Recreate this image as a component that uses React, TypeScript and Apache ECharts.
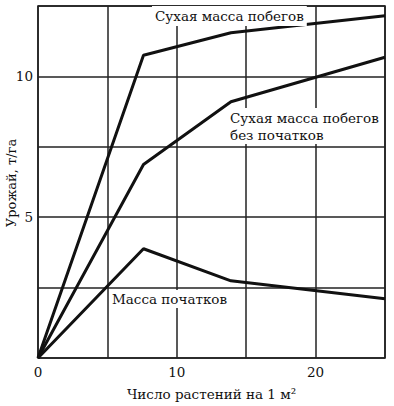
import React, { useEffect, useRef } from "react";
import * as echarts from "echarts";

const plantDensity = [0, 7.6, 13.9, 25];
const shootDryMass = [0, 10.75, 11.55, 12.15];
const shootDryMassNoEars = [0, 6.87, 9.1, 10.68];
const earMass = [0, 3.88, 2.74, 2.1];

const xTickLabels = [0, 10, 20];
const yTickLabels = [5, 10];

const seriesNames = [
  "Сухая масса побегов",
  "Сухая масса побегов\nбез початков",
  "Масса початков",
];

const FONT = "'DejaVu Serif', 'Liberation Serif', serif";

export default function App() {
  const ref = useRef<HTMLDivElement>(null);
  useEffect(() => {
    if (!ref.current) return;
    const chart = echarts.init(ref.current, undefined, { renderer: "svg" });
    const mk = (vals: number[]) => plantDensity.map((x, i) => [x, vals[i]]);
    const lineStyle = { color: "#111", width: 3 };
    chart.setOption({
      animation: false,
      backgroundColor: "#fff",
      grid: {
        left: 38,
        right: 9,
        top: 6,
        bottom: 48,
        show: true,
        borderColor: "#111",
        borderWidth: 1.5,
      },
      xAxis: {
        type: "value",
        min: 0,
        max: 25,
        interval: 5,
        name: "Число растений на 1 м²",
        nameLocation: "middle",
        nameGap: 29,
        nameTextStyle: { fontFamily: FONT, fontSize: 13.5, color: "#111" },
        axisLine: { show: false },
        axisTick: { show: false },
        axisLabel: {
          margin: 7,
          fontFamily: FONT,
          fontSize: 13.5,
          color: "#111",
          formatter: (v: number) => (xTickLabels.includes(v) ? String(v) : ""),
        },
        splitLine: { show: true, lineStyle: { color: "#222", width: 1.5 } },
      },
      yAxis: {
        type: "value",
        min: 0,
        max: 12.5,
        interval: 2.5,
        axisLine: { show: false },
        axisTick: { show: false },
        axisLabel: {
          margin: 5,
          fontFamily: FONT,
          fontSize: 13.5,
          color: "#111",
          formatter: (v: number) => (yTickLabels.includes(v) ? String(v) : ""),
        },
        splitLine: { show: true, lineStyle: { color: "#222", width: 1.5 } },
      },
      series: [
        { name: seriesNames[0], type: "line", data: mk(shootDryMass), symbol: "none", lineStyle },
        { name: seriesNames[1], type: "line", data: mk(shootDryMassNoEars), symbol: "none", lineStyle },
        { name: seriesNames[2], type: "line", data: mk(earMass), symbol: "none", lineStyle },
      ],
      graphic: [
        {
          type: "text",
          x: 11,
          y: 183,
          rotation: Math.PI / 2,
          style: {
            text: "Урожай, т/га",
            fontFamily: FONT,
            fontSize: 13,
            fill: "#111",
            align: "center",
            verticalAlign: "middle",
          },
        },
        {
          type: "text",
          x: 152,
          y: 16,
          z: 100,
          style: {
            text: seriesNames[0],
            fontFamily: FONT,
            fontSize: 13.5,
            fill: "#111",
            align: "left",
            verticalAlign: "middle",
            backgroundColor: "#fff",
            padding: [3, 3, 3, 3],
          },
        },
        {
          type: "text",
          x: 227,
          y: 126,
          z: 100,
          style: {
            text: seriesNames[1],
            fontFamily: FONT,
            fontSize: 13.5,
            lineHeight: 17,
            fill: "#111",
            align: "left",
            verticalAlign: "middle",
            backgroundColor: "#fff",
            padding: [1, 3, 1, 3],
          },
        },
        {
          type: "text",
          x: 109,
          y: 299,
          z: 100,
          style: {
            text: seriesNames[2],
            fontFamily: FONT,
            fontSize: 13.5,
            fill: "#111",
            align: "left",
            verticalAlign: "middle",
            backgroundColor: "#fff",
            padding: [2, 3, 2, 3],
          },
        },
      ],
    });
    return () => chart.dispose();
  }, []);
  return <div ref={ref} style={{ width: 394, height: 406, position: "absolute", left: 0, top: 0 }} />;
}
